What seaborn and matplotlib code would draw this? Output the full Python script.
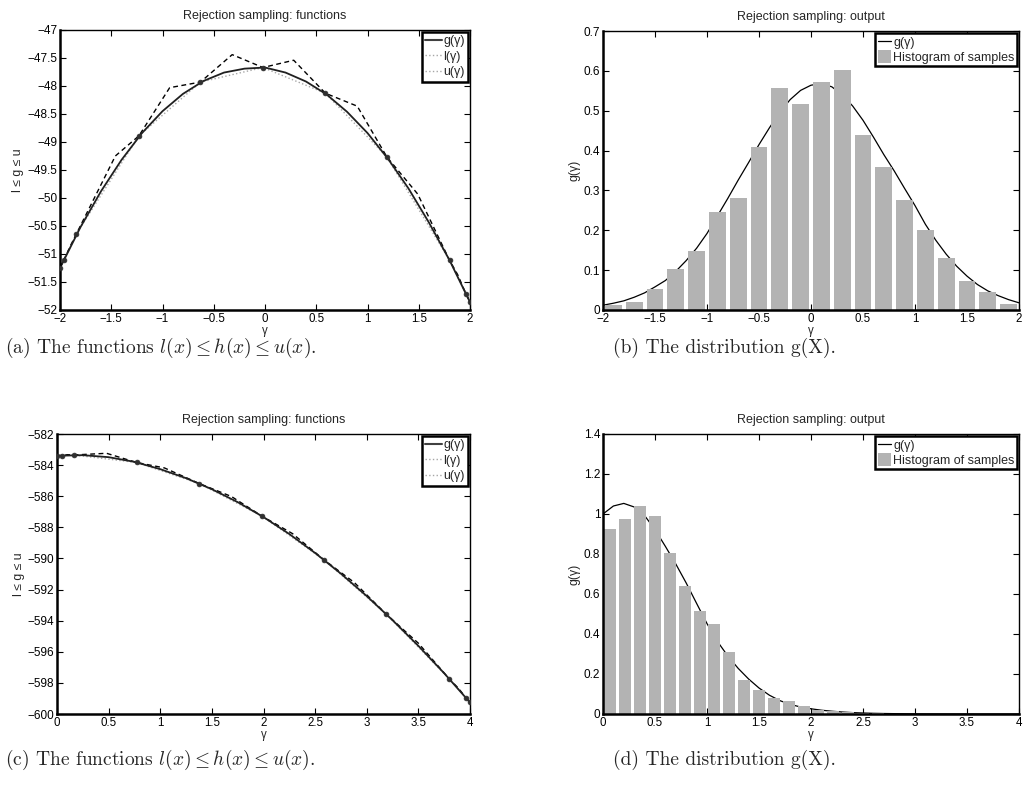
import numpy as np
import pandas as pd
import matplotlib
matplotlib.use('Agg')
import matplotlib.pyplot as plt
from matplotlib.lines import Line2D
from matplotlib.patches import Patch
from matplotlib.ticker import FuncFormatter, MultipleLocator
import seaborn as sns

# ---- panel (a): log-density and its hulls on [-2, 2]
a_x = np.linspace(-2, 2, 21)
a_g = [-51.25, -50.52, -49.88, -49.32, -48.84, -48.45, -48.14, -47.91, -47.76, -47.69,
       -47.67, -47.76, -47.92, -48.15, -48.46, -48.84, -49.30, -49.83, -50.44, -51.11, -51.86]
a_knot_x = [-2.0, -1.96, -1.84, -1.23, -0.63, -0.02, 0.59, 1.19, 1.80, 1.96, 2.0]
a_knot_g = [-51.25, -51.10, -50.64, -48.89, -47.93, -47.67, -48.13, -49.27, -51.11, -51.71, -51.86]
# upper hull u: passes through the knots, with a corner between each pair
a_upper_x = [-2.0, -1.98, -1.96, -1.90, -1.84, -1.46, -1.23, -0.93, -0.63, -0.32, -0.02,
             0.28, 0.59, 0.90, 1.19, 1.49, 1.80, 1.88, 1.96, 1.98, 2.0]
a_upper_y = [-51.25, -51.17, -51.10, -50.86, -50.64, -49.25, -48.89, -48.03, -47.93, -47.44, -47.67,
             -47.54, -48.13, -48.36, -49.27, -49.93, -51.11, -51.37, -51.71, -51.78, -51.86]

# ---- panel (b): density and histogram of samples on [-2, 2]
b_x = np.linspace(-2, 2, 41)
b_g = [0.012, 0.017, 0.023, 0.032, 0.043, 0.058, 0.074, 0.097, 0.124, 0.155,
       0.192, 0.236, 0.280, 0.326, 0.370, 0.415, 0.457, 0.496, 0.528, 0.551,
       0.564, 0.568, 0.560, 0.540, 0.512, 0.476, 0.434, 0.390, 0.349, 0.305,
       0.262, 0.215, 0.175, 0.140, 0.110, 0.085, 0.064, 0.048, 0.036, 0.026, 0.018]
b_range = (-2, 2)
b_binwidth = 0.2
b_hist = [0.012, 0.021, 0.052, 0.103, 0.149, 0.245, 0.280, 0.410, 0.556, 0.518,
          0.571, 0.603, 0.439, 0.359, 0.277, 0.200, 0.130, 0.072, 0.044, 0.015]

# ---- panel (c): log-density and its hulls on [0, 4]
c_x = np.linspace(0, 4, 17)
c_g = [-583.40, -583.36, -583.49, -583.79, -584.26, -584.84, -585.55, -586.38, -587.34,
       -588.43, -589.65, -590.98, -592.42, -593.97, -595.62, -597.38, -599.26]
c_knot_x = [0.0, 0.045, 0.16, 0.77, 1.38, 1.99, 2.59, 3.19, 3.80, 3.96, 4.0]
c_knot_g = [-583.40, -583.39, -583.35, -583.83, -585.19, -587.30, -590.11, -593.59, -597.75, -598.95, -599.26]
c_upper_x = [0.0, 0.02, 0.045, 0.10, 0.16, 0.48, 0.77, 1.04, 1.38, 1.69, 1.99,
             2.28, 2.59, 2.88, 3.19, 3.50, 3.80, 3.89, 3.96, 3.98, 4.0]
c_upper_y = [-583.40, -583.38, -583.39, -583.33, -583.35, -583.24, -583.83, -584.18, -585.19, -586.02, -587.30,
             -588.40, -590.11, -591.55, -593.59, -595.45, -597.75, -598.36, -598.95, -599.08, -599.26]

# ---- panel (d): density and histogram of samples on [0, 4]
d_x = np.linspace(0, 4, 41)
d_g = [1.000, 1.040, 1.053, 1.035, 0.992, 0.922, 0.838, 0.750, 0.655, 0.553,
       0.452, 0.363, 0.290, 0.228, 0.175, 0.130, 0.094, 0.067, 0.048, 0.035,
       0.026, 0.019, 0.014, 0.010, 0.007, 0.005, 0.0035, 0.0025, 0.0018, 0.0012,
       0.0008, 0.0005, 0.0003, 0.0002, 0.0001, 0.0001, 0.0, 0.0, 0.0, 0.0, 0.0]
d_range = (0, 4)
d_binwidth = 4 / 28
d_hist = [0.925, 0.975, 1.040, 0.990, 0.805, 0.640, 0.515, 0.450, 0.310, 0.170,
          0.120, 0.082, 0.065, 0.040, 0.022, 0.015, 0.010, 0.006, 0.003, 0.002,
          0.001, 0, 0, 0, 0, 0, 0, 0]

captions = ["(a) The functions $l(x) \\leq h(x) \\leq u(x)$.",
            "(b) The distribution g(X).",
            "(c) The functions $l(x) \\leq h(x) \\leq u(x)$.",
            "(d) The distribution g(X)."]

sns.set_theme(style='ticks')
plt.rcParams['font.family'] = ['Liberation Sans', 'DejaVu Sans']
plt.rcParams['mathtext.fontset'] = 'cm'
plt.rcParams['axes.unicode_minus'] = True

BAR = '#b3b3b3'
W, H = 1031, 787


def box(l, t, r, b):
    return [l / W, 1 - b / H, (r - l) / W, (b - t) / H]


def matlab_fmt(v, pos):
    s = '%g' % round(v, 6)
    if s == '-0':
        s = '0'
    return s.replace('-', '\u2212')


def style_axes(ax, xstep, ystep, xlim, ylim):
    ax.set_xlim(*xlim)
    ax.set_ylim(*ylim)
    ax.xaxis.set_major_locator(MultipleLocator(xstep))
    ax.yaxis.set_major_locator(MultipleLocator(ystep))
    ax.xaxis.set_major_formatter(FuncFormatter(matlab_fmt))
    ax.yaxis.set_major_formatter(FuncFormatter(matlab_fmt))
    ax.tick_params(direction='in', top=True, right=True, length=4, width=0.8,
                   labelsize=8.5, pad=2, colors='black')
    ax.tick_params(axis='x', labelsize=8.3, pad=2.5)
    for side in ['top', 'right']:
        ax.spines[side].set_visible(True)
        ax.spines[side].set_linewidth(1.0)
        ax.spines[side].set_color('black')
    for side in ['bottom', 'left']:
        ax.spines[side].set_linewidth(1.8)
        ax.spines[side].set_color('black')
    ax.set_xlabel('\u03b3', fontsize=8.3)
    # gamma sits just under the tick labels, as in the MATLAB export
    ax.xaxis.set_label_coords(0.5, -0.052)
    ax.grid(False)


def functions_panel(ax, x, g, kx, kg, ux, uy):
    sns.lineplot(x=kx, y=kg, ax=ax, color='#a6a6a6', linestyle=':', linewidth=1.0)
    sns.lineplot(x=ux, y=uy, ax=ax, color='black', linewidth=1.0,
                 linestyle=(0, (3.5, 2.5)))
    sns.lineplot(x=x, y=g, ax=ax, color='#202020', linewidth=1.3)
    sns.scatterplot(x=kx, y=kg, ax=ax, color='#303030', s=12, edgecolor='#303030',
                    linewidth=0.5, zorder=4)
    ax.set_title('Rejection sampling: functions', fontsize=9, pad=8)
    ax.set_ylabel('l \u2264 g \u2264 u', fontsize=8.8, labelpad=2)
    handles = [Line2D([], [], color='#404040', lw=1.5),
               Line2D([], [], color='#a6a6a6', lw=1.0, ls=':'),
               Line2D([], [], color='#a6a6a6', lw=1.0, ls=':')]
    leg = ax.legend(handles, ['g(\u03b3)', 'l(\u03b3)', 'u(\u03b3)'], loc='upper right',
                    fontsize=9, handlelength=1.3, handletextpad=0.15,
                    borderpad=0.25, labelspacing=0.3, borderaxespad=0.15,
                    fancybox=False, framealpha=1)
    leg.get_frame().set_edgecolor('black')
    leg.get_frame().set_linewidth(1.8)


def output_panel(ax, x, g, hist, binrange, binwidth):
    sns.lineplot(x=x, y=g, ax=ax, color='black', linewidth=0.9, zorder=1)
    n = len(hist)
    centers = binrange[0] + (np.arange(n) + 0.5) * binwidth
    df = pd.DataFrame({'x': centers, 'w': hist})
    sns.histplot(data=df, x='x', weights='w', binwidth=binwidth, binrange=binrange,
                 shrink=0.8, ax=ax, color=BAR, alpha=1, edgecolor='none',
                 linewidth=0, zorder=2)
    ax.set_title('Rejection sampling: output', fontsize=9, pad=8)
    ax.set_ylabel('g(\u03b3)', fontsize=8.8, labelpad=2)
    handles = [Line2D([], [], color='black', lw=0.9),
               Patch(facecolor=BAR, edgecolor='none')]
    leg = ax.legend(handles, ['g(\u03b3)', 'Histogram of samples'], loc='upper right',
                    fontsize=9, handlelength=1.1, handleheight=1.2, handletextpad=0.15,
                    borderpad=0.2, labelspacing=0.1, borderaxespad=0.15,
                    fancybox=False, framealpha=1)
    leg.get_frame().set_edgecolor('black')
    leg.get_frame().set_linewidth(1.8)


fig = plt.figure(figsize=(W / 100, H / 100), dpi=100)

ax_a = fig.add_axes(box(60, 30, 470, 310))
functions_panel(ax_a, a_x, a_g, a_knot_x, a_knot_g, a_upper_x, a_upper_y)
style_axes(ax_a, 0.5, 0.5, (-2, 2), (-52, -47))

ax_b = fig.add_axes(box(603, 31, 1019, 310))
output_panel(ax_b, b_x, b_g, b_hist, b_range, b_binwidth)
style_axes(ax_b, 0.5, 0.1, (-2, 2), (0, 0.7))

ax_c = fig.add_axes(box(57, 434, 470, 714))
functions_panel(ax_c, c_x, c_g, c_knot_x, c_knot_g, c_upper_x, c_upper_y)
style_axes(ax_c, 0.5, 2, (0, 4), (-600, -582))

ax_d = fig.add_axes(box(603, 434, 1019, 714))
output_panel(ax_d, d_x, d_g, d_hist, d_range, d_binwidth)
style_axes(ax_d, 0.5, 0.2, (0, 4), (0, 1.4))

# sub-figure captions
for (cx, cy), text in zip([(5, 348), (613, 348), (5, 760), (613, 760)], captions):
    fig.text(cx / W, 1 - cy / H, text, fontfamily='cmr10', fontsize=14,
             ha='left', va='center')

plt.savefig('out.png', dpi=100)
